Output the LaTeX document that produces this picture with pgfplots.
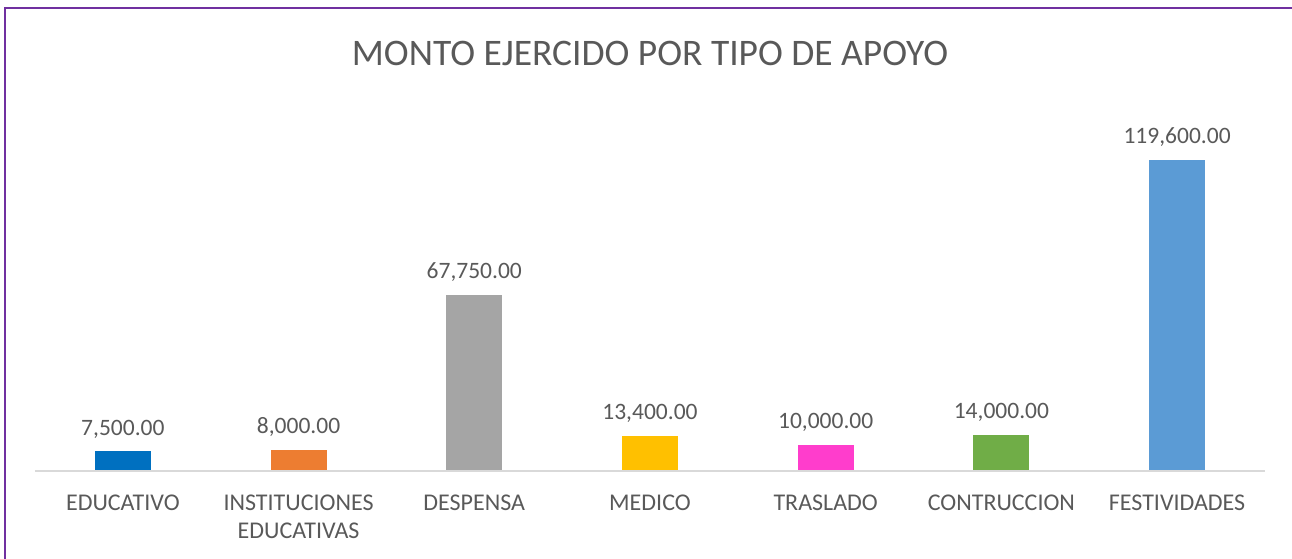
\documentclass[border=0pt]{standalone}
\usepackage{pgfplots}
\pgfplotsset{compat=1.18}
\usepackage{fontspec}
\setmainfont{Carlito}
\definecolor{txt}{HTML}{595959}
\definecolor{c1}{HTML}{0070C0}
\definecolor{c2}{HTML}{ED7D31}
\definecolor{c3}{HTML}{A5A5A5}
\definecolor{c4}{HTML}{FFC000}
\definecolor{c5}{HTML}{FF3DCC}
\definecolor{c6}{HTML}{70AD47}
\definecolor{c7}{HTML}{5B9BD5}
\definecolor{frame}{HTML}{7030A0}
\definecolor{base}{HTML}{D9D9D9}
\begin{document}
\begin{tikzpicture}[x=1pt,y=1pt]
\useasboundingbox (0,0) rectangle (1292,559);
\draw[frame, line width=1.5pt] (5,0) -- (5,551) -- (1292,551);
\node[anchor=base, inner sep=0, font=\fontsize{37.5}{42}\selectfont, text=txt] at (650,493) {MONTO EJERCIDO POR TIPO DE APOYO};
\begin{axis}[
  at={(35pt,88pt)}, anchor=south west,
  scale only axis, width=1230pt, height=340pt,
  xmin=-0.5, xmax=6.5, ymin=0, ymax=130750,
  clip=false,
  axis line style={draw=none},
  ymajorticks=false,
  major tick length=0,
  xtick={0,1,2,3,4,5,6},
  xticklabels={EDUCATIVO, {INSTITUCIONES\\EDUCATIVAS}, DESPENSA, MEDICO, TRASLADO, CONTRUCCION, FESTIVIDADES},
  xticklabel style={font=\fontsize{24}{28}\selectfont, text=txt, align=center, anchor=north, inner sep=0pt, yshift=-24pt},
  ybar, bar width=56pt, bar shift=0pt,
  every axis plot/.append style={draw=none},
  nodes near coords={\pgfmathprintnumber[fixed,fixed zerofill,precision=2,1000 sep={,},assume math mode=true]{\pgfplotspointmeta}},
  every node near coord/.append style={font=\fontsize{23.5}{28}\selectfont, text=txt, anchor=south, inner sep=0pt, yshift=13pt},
]
\addplot[fill=c1] coordinates {(0,7500)};
\addplot[fill=c2] coordinates {(1,8000)};
\addplot[fill=c3] coordinates {(2,67750)};
\addplot[fill=c4] coordinates {(3,13400)};
\addplot[fill=c5] coordinates {(4,10000)};
\addplot[fill=c6] coordinates {(5,14000)};
\addplot[fill=c7] coordinates {(6,119600)};
\draw[base, line width=1.5pt] (axis cs:-0.5,0) -- (axis cs:6.5,0);
\end{axis}
\end{tikzpicture}
\end{document}
